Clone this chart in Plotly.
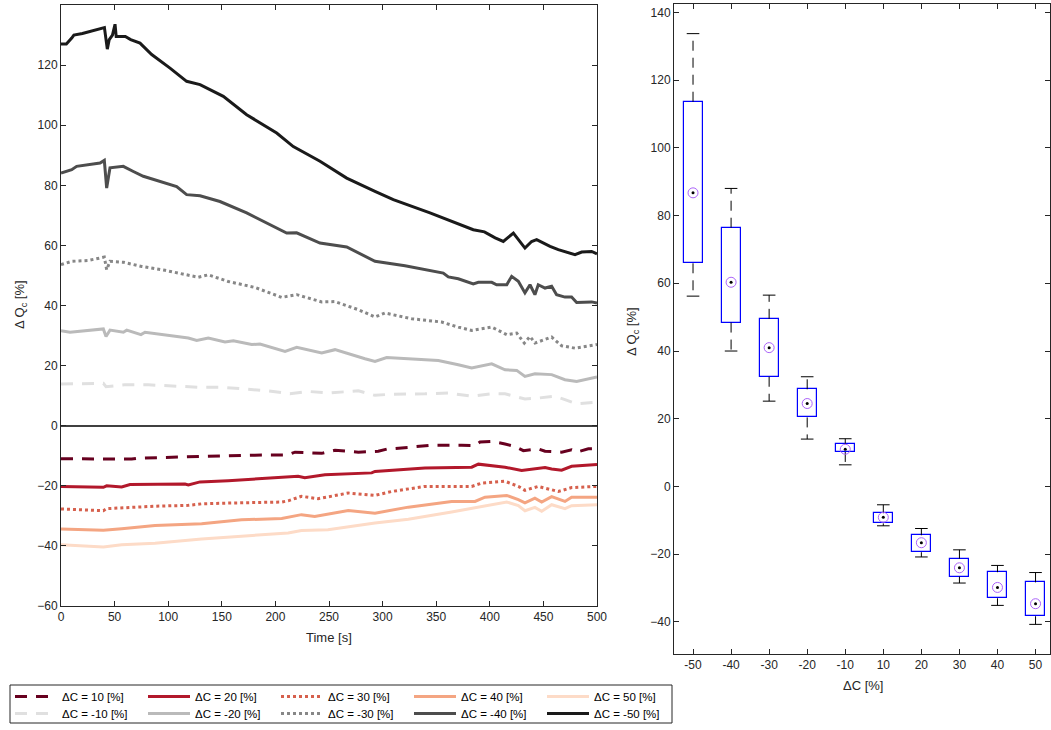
import plotly.graph_objects as go

# ---------------- time series: relative change of Qc for each concentration step ----------------
t_p10 = [0, 39.5, 65.9, 72.2, 131.2, 137.4, 156, 180.8, 211.9, 218.3, 243.2, 255.6, 277.4, 296, 303.8, 324,
         345.8, 373.8, 386.2, 390.9, 401.8, 414.2, 423.5, 431.3, 445.2, 451.5, 467, 476.3, 481, 491.9, 500]
q_p10 = [-11.0, -11.1, -11.1, -10.8, -10.4, -10.2, -10.0, -9.8, -9.7, -8.8, -9.2, -8.2, -8.8, -8.5, -7.8, -7.2,
         -6.5, -6.5, -6.6, -5.4, -5.2, -6.1, -6.9, -8.3, -7.7, -8.5, -8.8, -8.0, -8.8, -7.7, -7.7]

t_p20 = [0, 39.5, 42.6, 56.6, 64.4, 87.7, 115.7, 118.8, 129.7, 156, 187.1, 211.9, 221.2, 227.4, 246.2, 289.8,
         292.9, 339.5, 383.1, 389.3, 398.6, 414.2, 429.7, 439, 451.5, 457.7, 467, 476.3, 488.7, 500]
q_p20 = [-20.2, -20.5, -20.0, -20.4, -19.6, -19.6, -19.4, -19.7, -18.7, -18.3, -17.7, -17.1, -16.8, -17.3, -16.3,
         -15.7, -15.2, -14.1, -13.8, -12.8, -13.2, -13.8, -14.9, -14.5, -13.9, -14.4, -14.8, -13.5, -13.2, -12.9]

t_p30 = [0, 39.5, 42.6, 87.7, 118.8, 131.2, 162.3, 205.9, 211.9, 224.3, 239.8, 250, 268, 292.9, 308.4, 339.5,
         383.1, 392.5, 414.2, 426.6, 432.8, 445.2, 463.9, 476.3, 500]
q_p30 = [-27.7, -28.3, -27.6, -26.8, -26.5, -26.0, -25.7, -25.4, -25.0, -23.5, -24.3, -23.6, -22.4, -23.2, -21.9,
         -20.2, -20.2, -19.1, -18.5, -20.2, -21.5, -20.2, -21.9, -20.6, -20.2]

t_p40 = [0, 39.5, 56.6, 87.7, 131.2, 168.4, 205.9, 224.3, 236.7, 249, 268, 292.9, 324, 364.4, 386.2, 395.5,
         415.8, 426.6, 432.8, 442.1, 448.4, 457.7, 470.1, 476.3, 500]
q_p40 = [-34.4, -34.8, -34.3, -33.2, -32.6, -31.3, -30.9, -29.6, -30.2, -29.4, -28.2, -29.1, -27.1, -25.2, -25.2,
         -23.8, -23.2, -24.6, -25.7, -24.1, -25.4, -23.6, -25.2, -23.8, -23.8]

t_p50 = [0, 39.5, 56.6, 87.7, 131.2, 168.4, 211.9, 224.3, 249, 292.9, 324, 364.4, 392.5, 415.8, 426.6, 432.8,
         442.1, 448.4, 457.7, 470.1, 476.3, 500]
q_p50 = [-39.6, -40.4, -39.6, -39.1, -37.7, -36.8, -35.7, -34.9, -34.6, -32.4, -31.1, -28.7, -26.8, -25.4, -26.6,
         -28.3, -27.2, -28.5, -26.3, -27.6, -26.6, -26.3]

t_m10 = [0, 39.5, 42, 59.2, 81.5, 103.3, 128, 149.8, 168.4, 193.3, 213.6, 230.7, 249.4, 277.4, 292.9, 308.4,
         339.5, 361.3, 383.1, 401.8, 414.2, 432.8, 445.2, 460.7, 470.1, 481, 500]
q_m10 = [13.9, 14.1, 13.0, 13.6, 13.6, 13.3, 12.8, 12.8, 12.3, 11.6, 10.6, 11.4, 10.9, 11.6, 10.1, 10.5,
         10.6, 10.9, 9.8, 10.6, 10.6, 8.9, 9.2, 9.8, 8.7, 7.3, 7.8]

t_m20 = [0, 8.4, 39.5, 42, 45.7, 58.2, 61.3, 74.6, 78.4, 118.8, 126.6, 137.4, 153, 160.8, 177.9, 185.6, 209,
         219.9, 243.2, 255.6, 283.6, 292.9, 303.8, 352, 370.6, 383.1, 401.8, 414.2, 425.1, 432.8, 442.1, 457.7,
         470.1, 481, 500]
q_m20 = [31.6, 31.1, 32.2, 29.7, 31.8, 31.1, 31.8, 30.3, 31.1, 29.2, 28.4, 29.2, 27.9, 28.3, 27.0, 27.2, 24.7,
         26.1, 24.2, 25.3, 22.3, 21.4, 22.7, 21.7, 20.3, 19.2, 20.6, 18.6, 18.4, 16.4, 17.3, 17.0,
         15.3, 14.7, 16.2]

t_m30 = [0, 10, 25.5, 40.4, 42.6, 45.7, 58.2, 75.2, 97, 128, 137.4, 156, 181, 205.9, 219.9, 243.2, 255.6,
         277.4, 292.9, 302.2, 327.1, 355.1, 370.6, 383.1, 401.8, 415.8, 425.1, 432.2, 437.5, 442.1, 457.7, 467,
         479.5, 500]
q_m30 = [53.6, 54.7, 55.0, 56.1, 51.9, 54.7, 54.4, 53.0, 51.7, 49.4, 50.2, 48.0, 46.0, 42.7, 43.6, 41.2, 41.3,
         38.6, 36.2, 37.5, 35.6, 34.5, 32.8, 31.7, 32.8, 30.3, 30.8, 27.5, 29.7, 27.5, 29.5, 26.6,
         25.8, 27.0]

t_m40 = [0, 10, 14.6, 36.4, 40.4, 42.6, 45.7, 58.1, 67.5, 76.8, 107.9, 117.2, 129.7, 148.3, 173.2, 188.7, 210.5,
         219.8, 241.6, 266.5, 277.4, 292.9, 320.9, 339.5, 356.6, 361.3, 370.6, 384.6, 389.3, 401.8, 406.4, 415.8,
         420.4, 426.6, 432.8, 437.5, 442.1, 445.2, 451.5, 457.7, 462.3, 470.1, 476.3, 481, 495, 500]
q_m40 = [84.1, 85.2, 86.3, 87.4, 88.3, 79.1, 85.8, 86.3, 84.6, 83.0, 79.6, 76.9, 76.5, 74.6, 70.8, 68.0, 64.1,
         64.2, 60.8, 59.5, 57.5, 54.7, 53.2, 51.9, 50.8, 49.5, 48.9, 47.2, 47.7, 47.7, 46.9, 46.9,
         49.7, 48.1, 44.2, 46.9, 43.6, 46.9, 45.8, 46.4, 43.6, 42.8, 42.8, 41.0, 41.2, 40.8]

t_m50 = [0, 5, 10, 12, 20, 30, 38, 40.5, 43.2, 45, 48, 50.4, 51.5, 60, 65, 73.7, 84.6, 101.7, 117.2, 129.7,
         151.4, 173.2, 201.2, 216.7, 241.6, 266.5, 292.9, 310, 344.2, 384.6, 395, 405, 412.6, 422, 432.8, 439,
         443.7, 448.4, 456.2, 463.9, 479.5, 485.7, 495, 500]
q_m50 = [127, 127, 129, 130, 130.5, 131.5, 132.5, 132.5, 125.3, 128.5, 130, 133.6, 129.5, 129.5, 128.5, 127.3,
         123.5, 119.0, 114.6, 113.5, 109.6, 103.5, 97.4, 92.9, 88.0, 82.4, 78.0, 75.2, 70.8, 65.2, 64.5, 62.5,
         61.3, 64.1, 59.1, 61.3, 61.9, 61.0, 59.7, 58.6, 56.9, 57.8, 58.0, 57.2]

# ---------------- box statistics per concentration step ----------------
box_categories = ["-50", "-40", "-30", "-20", "-10", "10", "20", "30", "40", "50"]
whisker_hi = [133.7, 88.0, 56.5, 32.4, 14.1, -5.4, -12.4, -18.7, -23.3, -25.4]
quart_3 = [113.6, 76.4, 49.5, 28.7, 12.5, -7.9, -14.4, -21.3, -25.3, -28.3]
medians = [86.7, 60.3, 41.0, 24.5, 11.0, -9.1, -16.6, -24.0, -29.8, -34.6]
quart_1 = [65.9, 48.4, 32.4, 20.4, 10.2, -10.9, -19.4, -26.6, -33.0, -38.3]
whisker_lo = [56.2, 40.0, 25.2, 14.0, 6.4, -11.6, -20.8, -28.5, -35.1, -40.7]

W, H = 1051, 730
FONT = "Liberation Sans, Arial, sans-serif"
AXC = "#262626"


def px_x(p):
    return p / W


def px_y(p):
    return (H - p) / H


fig = go.Figure()

# (name, t, q, colour, dash, legend)
series = [
    ("\u0394C = 10 [%]", t_p10, q_p10, "#67001f", "12px,9px", "legend"),
    ("\u0394C = 20 [%]", t_p20, q_p20, "#b2182b", "solid", "legend"),
    ("\u0394C = 30 [%]", t_p30, q_p30, "#d6604d", "dot", "legend"),
    ("\u0394C = 40 [%]", t_p40, q_p40, "#f4a582", "solid", "legend"),
    ("\u0394C = 50 [%]", t_p50, q_p50, "#fddbc7", "solid", "legend"),
    ("\u0394C = -10 [%]", t_m10, q_m10, "#e0e0e0", "12px,9px", "legend2"),
    ("\u0394C = -20 [%]", t_m20, q_m20, "#bababa", "solid", "legend2"),
    ("\u0394C = -30 [%]", t_m30, q_m30, "#878787", "dot", "legend2"),
    ("\u0394C = -40 [%]", t_m40, q_m40, "#4d4d4d", "solid", "legend2"),
    ("\u0394C = -50 [%]", t_m50, q_m50, "#1a1a1a", "solid", "legend2"),
]
for name, t, q, col, dash, lg in series:
    fig.add_trace(go.Scatter(x=t, y=q, mode="lines", name=name, legend=lg,
                             line=dict(color=col, width=3, dash=dash),
                             xaxis="x", yaxis="y"))

# whiskers (dashed black) from box edges to the extreme values
wx, wy = [], []
for c, hi, q3, q1, lo in zip(box_categories, whisker_hi, quart_3, quart_1, whisker_lo):
    wx += [c, c, None, c, c, None]
    wy += [q3, hi, None, q1, lo, None]
fig.add_trace(go.Scatter(x=wx, y=wy, mode="lines", showlegend=False,
                         line=dict(color="black", width=1, dash="10px,7px"),
                         xaxis="x2", yaxis="y2"))
# whisker caps
fig.add_trace(go.Scatter(x=box_categories + box_categories, y=whisker_hi + whisker_lo, mode="markers",
                         showlegend=False,
                         marker=dict(symbol="line-ew", size=9, line=dict(color="black", width=1)),
                         xaxis="x2", yaxis="y2"))
# boxes from Q1 to Q3
fig.add_trace(go.Bar(x=box_categories, y=[a - b for a, b in zip(quart_3, quart_1)], base=quart_1,
                     width=0.5, showlegend=False,
                     marker=dict(color="white", line=dict(color="#0000ff", width=1.2)),
                     xaxis="x2", yaxis="y2"))
# median target markers
fig.add_trace(go.Scatter(x=box_categories, y=medians, mode="markers", showlegend=False,
                         marker=dict(symbol="circle-open", size=10, line=dict(color="#0000ff", width=1)),
                         xaxis="x2", yaxis="y2"))
fig.add_trace(go.Scatter(x=box_categories, y=medians, mode="markers", showlegend=False,
                         marker=dict(symbol="circle", size=3, color="black"),
                         xaxis="x2", yaxis="y2"))

tickfont = dict(family=FONT, size=12, color=AXC)
common = dict(showline=True, linecolor=AXC, linewidth=1, mirror="ticks", ticks="inside", ticklen=5,
              tickcolor=AXC, tickwidth=1, showgrid=False, tickfont=tickfont, automargin=False)

legend_common = dict(orientation="h", xanchor="left", yanchor="middle", entrywidth=76,
                     entrywidthmode="pixels", borderwidth=0, bgcolor="rgba(0,0,0,0)",
                     font=dict(family=FONT, size=11.5, color="black"), itemwidth=42)

fig.update_layout(
    width=W, height=H,
    margin=dict(l=0, r=0, t=0, b=0),
    paper_bgcolor="white", plot_bgcolor="white",
    bargap=0,
    xaxis=dict(domain=[px_x(61), px_x(597)], range=[0, 500], tickvals=list(range(0, 501, 50)),
               zeroline=False, anchor="y", **common),
    yaxis=dict(domain=[px_y(606), px_y(5)], range=[-60, 140], tickvals=list(range(-60, 141, 20)),
               zeroline=True, zerolinecolor="#404040", zerolinewidth=2, anchor="x", **common),
    xaxis2=dict(domain=[px_x(674), px_x(1050)], type="category", categoryorder="array",
                categoryarray=box_categories, range=[-0.5, 9.38], anchor="y2", **common),
    yaxis2=dict(domain=[px_y(654), px_y(4)], range=[-49.45, 142.45], tickvals=list(range(-40, 141, 20)),
                zeroline=False, anchor="x2", **common),
    legend=dict(x=px_x(10), y=px_y(696.5), **legend_common),
    legend2=dict(x=px_x(10), y=px_y(713.5), **legend_common),
    showlegend=True,
)

# legend frame
fig.add_shape(type="rect", xref="paper", yref="paper",
              x0=px_x(10), x1=px_x(672), y0=px_y(723), y1=px_y(685),
              line=dict(color=AXC, width=1), fillcolor="rgba(0,0,0,0)")

title_font = dict(family=FONT, size=13, color=AXC)
fig.add_annotation(text="\u0394 Q<sub>c</sub> [%]", xref="paper", yref="paper", x=px_x(20), y=px_y(305),
                   textangle=-90, showarrow=False, font=title_font, xanchor="center", yanchor="middle")
fig.add_annotation(text="Time [s]", xref="paper", yref="paper", x=px_x(329), y=px_y(637),
                   showarrow=False, font=title_font, xanchor="center", yanchor="middle")
fig.add_annotation(text="\u0394 Q<sub>c</sub> [%]", xref="paper", yref="paper", x=px_x(632), y=px_y(332),
                   textangle=-90, showarrow=False, font=title_font, xanchor="center", yanchor="middle")
fig.add_annotation(text="\u0394C [%]", xref="paper", yref="paper", x=px_x(863), y=px_y(685),
                   showarrow=False, font=title_font, xanchor="center", yanchor="middle")

fig.write_html("out.html")
